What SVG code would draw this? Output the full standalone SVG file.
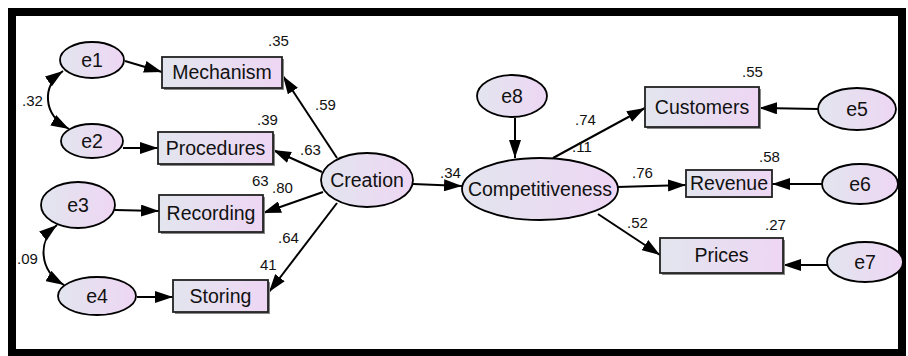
<svg xmlns="http://www.w3.org/2000/svg" width="908" height="356" viewBox="0 0 908 356">
  <defs>
    <linearGradient id="fillGrad" x1="0" y1="0" x2="1" y2="0">
      <stop offset="0" stop-color="#e2e5ee"/>
      <stop offset="1" stop-color="#eed6f4"/>
    </linearGradient>
    <marker id="ah" viewBox="0 0 18 12" refX="18" refY="6" markerWidth="18" markerHeight="12" orient="auto-start-reverse" markerUnits="userSpaceOnUse">
      <path d="M0,0 L18,6 L0,12 z" fill="#000"/>
    </marker>
  </defs>
  <style>
    .node ellipse { fill: url(#fillGrad); stroke: #000; stroke-width: 1.8; }
    .node rect.box { fill: url(#fillGrad); stroke: #222; stroke-width: 1.8; }
    .node rect.shadow { fill: #888; }
    .lbl { font-family: "Liberation Sans", Arial, sans-serif; font-size: 19.5px; fill: #111; text-anchor: middle; }
    .num { font-family: "Liberation Sans", Arial, sans-serif; font-size: 15px; fill: #111; }
    .conn line, .conn path { stroke: #000; stroke-width: 2; fill: none; }
  </style>

  <rect width="908" height="356" fill="#fff"/>
  <!-- outer frame -->
  <rect x="12" y="12" width="890" height="341" fill="none" stroke="#000" stroke-width="8"/>

  <!-- connectors -->
  <g id="connectors" class="conn">
    <line x1="125" y1="61" x2="162" y2="72" marker-end="url(#ah)"/>
    <line x1="123" y1="148" x2="158" y2="148" marker-end="url(#ah)"/>
    <line x1="115" y1="210" x2="159" y2="211" marker-end="url(#ah)"/>
    <line x1="137" y1="297" x2="173" y2="297" marker-end="url(#ah)"/>
    <path d="M63,71 C42,86 42,114 69,129" marker-start="url(#ah)" marker-end="url(#ah)"/>
    <path d="M57,225 C38,240 38,270 64,285" marker-start="url(#ah)" marker-end="url(#ah)"/>
    <line x1="337" y1="158" x2="283" y2="76" marker-end="url(#ah)"/>
    <line x1="322" y1="172" x2="273" y2="150" marker-end="url(#ah)"/>
    <line x1="323" y1="192" x2="263" y2="213" marker-end="url(#ah)"/>
    <line x1="337" y1="203" x2="269" y2="292" marker-end="url(#ah)"/>
    <line x1="413" y1="184" x2="462" y2="186" marker-end="url(#ah)"/>
    <line x1="515" y1="118" x2="515" y2="158" marker-end="url(#ah)"/>
    <line x1="553" y1="158" x2="645" y2="108" marker-end="url(#ah)"/>
    <line x1="617" y1="187" x2="686" y2="185" marker-end="url(#ah)"/>
    <line x1="598" y1="214" x2="660" y2="255" marker-end="url(#ah)"/>
    <line x1="818" y1="109" x2="759" y2="108" marker-end="url(#ah)"/>
    <line x1="822" y1="184" x2="772" y2="184" marker-end="url(#ah)"/>
    <line x1="827" y1="265" x2="783" y2="265" marker-end="url(#ah)"/>
  </g>

  <!-- error terms -->
  <g id="e1" class="node"><ellipse cx="92" cy="60" rx="32" ry="18"/><text class="lbl" x="92" y="67">e1</text></g>
  <g id="e2" class="node"><ellipse cx="92" cy="141" rx="31" ry="17"/><text class="lbl" x="92" y="148">e2</text></g>
  <g id="e3" class="node"><ellipse cx="78" cy="205" rx="37" ry="23"/><text class="lbl" x="78" y="212">e3</text></g>
  <g id="e4" class="node"><ellipse cx="97" cy="296" rx="39" ry="19"/><text class="lbl" x="97" y="303">e4</text></g>
  <g id="e5" class="node"><ellipse cx="857" cy="109" rx="39" ry="21"/><text class="lbl" x="857" y="116">e5</text></g>
  <g id="e6" class="node"><ellipse cx="860" cy="184" rx="38" ry="20"/><text class="lbl" x="860" y="191">e6</text></g>
  <g id="e7" class="node"><ellipse cx="865" cy="262" rx="38" ry="20"/><text class="lbl" x="865" y="269">e7</text></g>
  <g id="e8" class="node"><ellipse cx="512" cy="96" rx="35" ry="21"/><text class="lbl" x="512" y="103">e8</text></g>

  <!-- observed indicators -->
  <g id="mechanism" class="node"><rect class="shadow" x="164" y="59" width="120" height="31"/><rect class="box" x="162" y="57" width="120" height="31"/><text class="lbl" x="222" y="79">Mechanism</text></g>
  <g id="procedures" class="node"><rect class="shadow" x="160" y="134" width="115" height="32"/><rect class="box" x="158" y="132" width="115" height="32"/><text class="lbl" x="215.5" y="155">Procedures</text></g>
  <g id="recording" class="node"><rect class="shadow" x="161" y="197" width="104" height="37"/><rect class="box" x="159" y="195" width="104" height="37"/><text class="lbl" x="211" y="220">Recording</text></g>
  <g id="storing" class="node"><rect class="shadow" x="175" y="282" width="95" height="32"/><rect class="box" x="173" y="280" width="95" height="32"/><text class="lbl" x="220.5" y="303">Storing</text></g>
  <g id="customers" class="node"><rect class="shadow" x="647" y="89" width="114" height="40"/><rect class="box" x="645" y="87" width="114" height="40"/><text class="lbl" x="702" y="114">Customers</text></g>
  <g id="revenue" class="node"><rect class="shadow" x="688" y="172" width="84" height="26"/><rect class="box" x="686" y="170" width="86" height="27"/><text class="lbl" x="729" y="190">Revenue</text></g>
  <g id="prices" class="node"><rect class="shadow" x="662" y="240" width="123" height="35"/><rect class="box" x="660" y="238" width="123" height="35"/><text class="lbl" x="721.5" y="262">Prices</text></g>

  <!-- latent constructs -->
  <g id="creation" class="node"><ellipse cx="367" cy="180" rx="46" ry="27"/><text class="lbl" x="367" y="187">Creation</text></g>
  <g id="competitiveness" class="node"><ellipse cx="540" cy="189" rx="78" ry="31"/><text class="lbl" x="540" y="196">Competitiveness</text></g>

  <!-- estimates -->
  <g id="estimates">
    <text class="num" x="268" y="46">.35</text>
    <text class="num" x="257" y="125">.39</text>
    <text class="num" x="22" y="106">.32</text>
    <text class="num" x="315" y="110">.59</text>
    <text class="num" x="300" y="155">.63</text>
    <text class="num" x="252" y="186">63</text>
    <text class="num" x="272" y="193">.80</text>
    <text class="num" x="278" y="243">.64</text>
    <text class="num" x="260" y="270">41</text>
    <text class="num" x="17" y="264">.09</text>
    <text class="num" x="440" y="178">.34</text>
    <text class="num" x="575" y="125">.74</text>
    <text class="num" x="572" y="152">.11</text>
    <text class="num" x="742" y="77">.55</text>
    <text class="num" x="632" y="178">.76</text>
    <text class="num" x="759" y="162">.58</text>
    <text class="num" x="627" y="228">.52</text>
    <text class="num" x="765" y="230">.27</text>
  </g>
</svg>
